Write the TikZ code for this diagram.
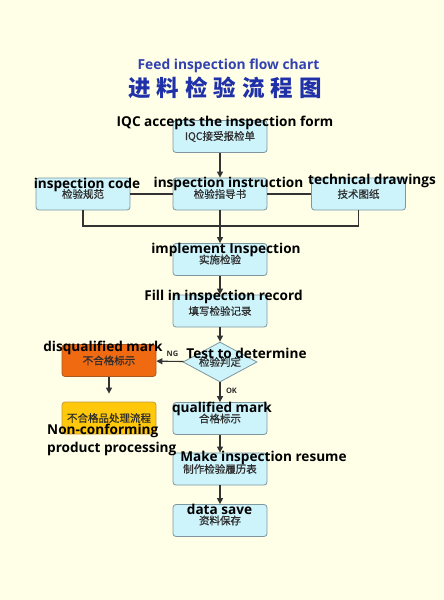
\documentclass[tikz,border=0pt]{standalone}
\usepackage{fontspec}
\setmainfont{Open Sans}
\newfontfamily\cjkfont{Noto Sans CJK SC}
\newfontfamily\cjkbox{Noto Sans CJK SC}[FakeBold=0.7]
\usetikzlibrary{shapes.geometric,arrows.meta}
\definecolor{bgc}{HTML}{FFFFE8}
\definecolor{boxfill}{HTML}{CDF3FB}
\definecolor{boxline}{HTML}{7E979E}
\definecolor{orfill}{HTML}{F06A12}
\definecolor{orline}{HTML}{A85A20}
\definecolor{yefill}{HTML}{FFC80A}
\definecolor{yeline}{HTML}{C09A40}
\definecolor{titleblue}{HTML}{3142B0}
\definecolor{cnblue}{HTML}{2030A8}
\definecolor{cntext}{HTML}{2E2E2E}
\definecolor{linec}{HTML}{333333}
\tikzset{
  flowbox/.style={draw=boxline, fill=boxfill, rounded corners=3pt, line width=0.8pt,
    minimum width=94pt, minimum height=32pt, inner sep=0pt,
    font=\cjkbox\fontsize{10.5}{11}\selectfont, text=cntext},
  orbox/.style={flowbox, fill=orfill, draw=orline},
  yebox/.style={flowbox, fill=yefill, draw=yeline},
  decide/.style={diamond, aspect=1.85, draw=boxline, fill=boxfill, line width=0.8pt,
    minimum width=74pt, minimum height=40pt, inner sep=0pt,
    font=\cjkbox\fontsize{10.5}{11}\selectfont, text=cntext},
  capt/.style={font=\bfseries\fontsize{13.6}{15}\selectfont, text=black, inner sep=0pt},
  small/.style={font=\bfseries\rmfamily\fontsize{7.5}{8}\selectfont, text=cntext, inner sep=0pt},
  conn/.style={draw=linec, line width=1.1pt},
  arr/.style={conn, -{Triangle[length=6pt,width=6pt]}}
}
\begin{document}
\begin{tikzpicture}[x=1pt,y=-1pt]
\fill[bgc] (0,0) rectangle (444,600);
\useasboundingbox (0,0) rectangle (444,600);

% titles
\node[font=\bfseries\fontsize{13.8}{14}\selectfont, text=titleblue, inner sep=0pt] (t1) at (228.5,66) {Feed inspection flow chart};
\node[font=\cjkfont\bfseries\fontsize{22.5}{23}\selectfont, text=cnblue, inner sep=0pt] (t2) at (225,88)
  {\makebox[194pt][s]{进\hfill 料\hfill 检\hfill 验\hfill 流\hfill 程\hfill 图}};

% boxes
\node[flowbox] (b1) at (220,136.5) {IQC接受报检单};
\node[flowbox] (b2l) at (83,194) {检验规范};
\node[flowbox] (b2c) at (220,194) {检验指导书};
\node[flowbox] (b2r) at (358.5,194) {技术图纸};
\node[flowbox] (b3) at (220,259.5) {实施检验};
\node[flowbox] (b4) at (220,311) {填写检验记录};
\node[decide] (d) at (220,362) {检验判定};
\node[orbox] (bo) at (109,360.5) {不合格标示};
\node[yebox] (by) at (109,418) {不合格品处理流程};
\node[flowbox] (b5) at (220,418.5) {合格标示};
\node[flowbox] (b6) at (220,469) {制作检验履历表};
\node[flowbox] (b7) at (220,520.5) {资料保存};

\coordinate (jl) at (83,226);
\coordinate (jr) at (358.5,226);

% connectors
\draw[arr] (b1) -- (b2c);
\draw[conn] (b2l) -- (b2c);
\draw[conn] (b2c) -- (b2r);
\draw[conn] (b2l.south) -- (jl) -- (jr) -- (b2r.south);
\draw[arr] (b2c) -- (b3);
\draw[arr] (b3) -- (b4);
\draw[arr] (b4) -- (d);
\draw[arr] (d) -- (bo);
\draw[arr, shorten >=8pt] (bo) -- (by);
\draw[arr] (d) -- (b5);
\draw[arr] (b5) -- (b6);
\draw[arr] (b6) -- (b7);

% small labels
\node[small] (ng) at (172.5,354) {NG};
\node[small] (ok) at (231.5,390.5) {OK};

% captions
\node[capt] (c1) at (225,123) {IQC accepts the inspection form};
\node[capt] (c2) at (87,185) {inspection code};
\node[capt] (c3) at (228.5,184) {inspection instruction};
\node[capt] (c4) at (372,181) {technical drawings};
\node[capt] (c5) at (226,250) {implement Inspection};
\node[capt] (c6) at (223.5,297) {Fill in inspection record};
\node[capt] (c7) at (103,348) {disqualified mark};
\node[capt] (c8) at (246.5,353) {Test to determine};
\node[capt] (c9) at (222,409) {qualified mark};
\node[capt, anchor=west] (c10) at (47,431) {Non-conforming};
\node[capt, anchor=west] (c11) at (47,449) {product processing};
\node[capt] (c12) at (263.5,458) {Make inspection resume};
\node[capt] (c13) at (219.5,509) {data save};
\end{tikzpicture}
\end{document}
